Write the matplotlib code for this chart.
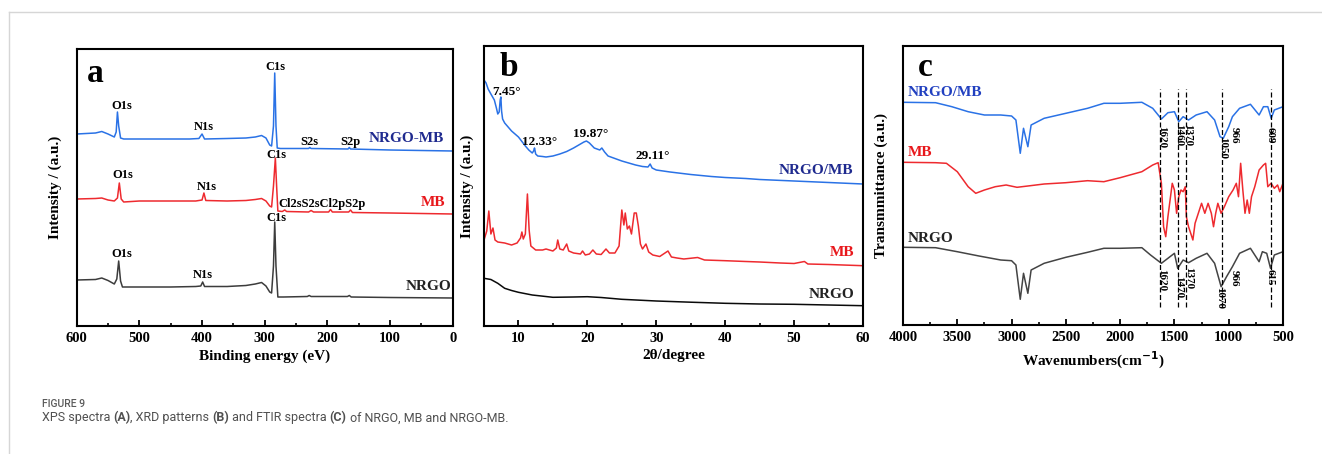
import numpy as np
import matplotlib
matplotlib.use("Agg")
import matplotlib.pyplot as plt
from matplotlib.lines import Line2D
from matplotlib.ticker import MultipleLocator

# ---- panel a: XPS survey (binding energy, relative intensity) ----
xps_mbc_be = [600, 570, 560, 550, 540, 537, 535, 533, 530, 525, 500, 460, 420, 405, 400, 396,
              360, 330, 315, 305, 298, 292, 289, 286, 284, 282, 280, 275, 230, 228, 226,
              167, 165, 163, 100, 50, 0]
xps_mbc_i = [192, 193, 194.5, 192, 189, 194, 214, 200, 188, 187, 187, 187, 187, 187.5, 192, 187,
             187.5, 188, 189, 190.5, 188, 181, 180, 200, 253, 200, 178, 177.5, 177.5, 178.5, 177.5,
             177, 178.5, 177, 176, 175.5, 175]

xps_mb_be = [600, 570, 560, 550, 540, 535, 532, 529, 525, 500, 450, 410, 400, 397, 394, 360,
             330, 315, 305, 298, 292, 289, 286, 283, 281, 279, 272, 268, 265, 230, 226, 222,
             198, 195, 192, 166, 163, 160, 100, 50, 0]
xps_mb_i = [127, 127.5, 128, 126, 125, 128, 143, 127, 124, 125, 125, 125, 126, 133, 125.5, 125,
            125.5, 126.5, 127.5, 125, 120, 119, 140, 168, 140, 115, 114.5, 116, 114.5, 114, 115.5, 114,
            114, 116.5, 114, 114, 116, 113.5, 113, 112.5, 112]

xps_ng_be = [600, 570, 560, 550, 540, 536, 533, 530, 527, 500, 450, 410, 402, 399, 396, 360,
             330, 315, 305, 298, 292, 289, 286, 284, 282, 279, 270, 232, 229, 226, 168, 165,
             162, 100, 0]
xps_ng_i = [46, 46.5, 48, 45.5, 42, 47, 65, 45, 39, 39, 39, 39.5, 40, 44, 39.5, 39.5,
            40.5, 42, 43.5, 40, 34, 33, 60, 104, 60, 29, 29, 29.5, 30.5, 29.5, 29.5, 30.5,
            29, 28.5, 28]

# ---- panel b: XRD ----
xrd_mbc_2t = [5.0, 5.3, 5.6, 6.0, 6.5, 6.8, 7.0, 7.2, 7.35, 7.45, 7.55, 7.7, 8.0, 8.5, 9, 10, 11,
              11.5, 12, 12.2, 12.33, 12.5, 12.8, 13.5, 14, 15, 16, 17, 18, 19, 19.5, 19.87, 20.3,
              21, 21.8, 22.1, 22.5, 23, 24, 25, 26, 27, 28, 28.8, 29.11, 29.4, 30, 32, 35, 38,
              40, 43, 45, 50, 55, 60]
xrd_mbc_i = [246, 243, 237, 232, 226, 218, 212, 214, 226, 229, 215, 207, 203, 199, 195, 189, 180,
             176, 173, 175, 178, 172, 170, 169.5, 169, 170, 172, 174.5, 178, 182, 184, 185, 183,
             178, 176, 178, 174, 170, 167.5, 165, 163, 161, 159.5, 159, 162, 158, 156, 154, 151.5, 149.5,
             148.5, 147.5, 146.5, 145, 143.5, 142]

xrd_mb_2t = [5.0, 5.4, 5.7, 6.0, 6.3, 6.6, 7, 8, 9, 9.8, 10.3, 10.5, 10.7, 11.0, 11.3, 11.55, 11.8,
             12.5, 13.5, 14, 15, 15.5, 15.7, 16.0, 16.5, 17.0, 17.3, 18, 19, 19.3, 19.7, 20.3,
             20.8, 21.3, 22, 22.7, 23.2, 24, 24.6, 25.0, 25.3, 25.5, 25.8, 26.1, 26.4, 26.8, 27.1,
             27.4, 27.7, 28.0, 28.5, 28.9, 29.5, 30.5, 31.7, 32.2, 33, 34, 36, 37, 40, 43, 45, 48,
             50, 51.5, 52, 55, 60]
xrd_mb_i = [86, 95, 115, 92, 98, 86, 84, 83, 81, 83, 88, 94, 87, 92, 132, 96, 80,
            76, 76, 77, 75, 78, 86, 77, 76, 82, 75, 73, 72, 75, 71, 72,
            76, 72, 71.5, 77, 73, 73, 80, 116, 101, 113, 97, 100, 92, 113, 113,
            100, 82, 77, 82, 74, 71, 69.5, 75, 69, 68, 67, 68.5, 66, 65.3, 64.5, 64, 63,
            62.5, 64.5, 62, 61.5, 60.3]

xrd_ng_2t = [5, 6, 7, 8, 9, 10, 12, 15, 18, 20, 22, 25, 30, 35, 40, 45, 50, 55, 60]
xrd_ng_i = [47.7, 46.5, 42.7, 37.7, 35.5, 33.7, 31, 28.7, 29, 29.3, 28.5, 26.7, 25, 23.8, 22.7,
            22, 21.7, 21, 20.3]

# ---- panel c: FTIR ----
ir_mbc_wn = [4000, 3700, 3550, 3400, 3250, 3100, 3000, 2960, 2920, 2890, 2850, 2820, 2700, 2500,
             2300, 2150, 2000, 1800, 1700, 1620, 1560, 1500, 1460, 1420, 1370, 1300, 1200, 1130,
             1080, 1050, 1000, 966, 900, 800, 720, 680, 640, 609, 580, 500]
ir_mbc_t = [222.7, 222.3, 218.3, 213.3, 210, 210, 209, 205, 171.7, 196.7, 178.3, 200, 206.7, 211.7,
            216.7, 221.7, 221.7, 222.7, 216.7, 206, 212.3, 213.3, 203.3, 208.3, 205, 210, 213.3, 205,
            188.3, 186.7, 198.3, 208.3, 216.7, 220.7, 210, 218.3, 218.3, 206.7, 215, 218.3]

ir_mb_wn = [4000, 3700, 3600, 3500, 3400, 3330, 3250, 3150, 3050, 2950, 2850, 2700, 2500, 2300,
            2150, 2000, 1800, 1700, 1650, 1620, 1600, 1580, 1560, 1540, 1520, 1500, 1480, 1460,
            1440, 1420, 1400, 1390, 1370, 1350, 1330, 1310, 1280, 1250, 1220, 1190, 1160, 1140,
            1120, 1100, 1070, 1040, 1000, 960, 930, 910, 890, 870, 850, 830, 810, 790, 760, 720,
            680, 660, 640, 610, 580, 550, 530, 500]
ir_mb_t = [162.7, 162.3, 161.7, 153.3, 138.3, 131.7, 135, 138.3, 140, 137.7, 139, 141, 142.3, 144.3,
           143.3, 147.3, 153.3, 160, 162.3, 141.7, 98.3, 88.3, 108.3, 125, 141.7, 135, 111.7, 128.3,
           135, 133.3, 138.3, 108.3, 98.3, 91.7, 85, 101.7, 111.7, 121.7, 111.7, 121.7, 111.7, 98.3,
           111.7, 121.7, 111.7, 118.3, 128.3, 135, 141.7, 128.3, 161.7, 135, 111.7, 125, 111.7, 128.3, 138.3, 155,
           160, 161.7, 138.3, 141.7, 136.7, 140, 133.3, 141.7]

ir_ng_wn = [4000, 3700, 3500, 3300, 3100, 3000, 2960, 2920, 2890, 2850, 2820, 2700, 2500, 2300,
            2150, 2000, 1800, 1720, 1620, 1560, 1500, 1470, 1420, 1370, 1300, 1200, 1130, 1070,
            1020, 966, 900, 800, 720, 690, 650, 615, 580, 500]
ir_ng_t = [77.7, 77.3, 73.3, 69, 65, 64.3, 60, 25.7, 51.7, 31.7, 55, 61.7, 67.7, 72.7,
           76.7, 76.7, 77.3, 70, 61.7, 66.7, 71.7, 56.7, 65, 62.3, 66.7, 71.7, 61.7, 38.3,
           48.3, 58.3, 71.7, 76.7, 63.3, 73.3, 71.7, 56.7, 70, 73.3]

ir_guides = [1632, 1465, 1390, 1060, 612]
ir_mbc_marks = [("1620", 1620, 188), ("1460", 1465, 190), ("1370", 1375, 190),
                ("1050", 1058, 177), ("966", 945, 190), ("609", 623, 190)]
ir_ng_marks = [("1620", 1620, 45), ("1470", 1458, 38), ("1370", 1368, 47),
               ("1070", 1080, 27), ("966", 945, 47), ("615", 623, 48)]

BLUE = "#2a72e6"
RED = "#ee2a2f"
NAVY = "#1f2a8f"
serif = "Liberation Serif"

plt.rcParams["font.family"] = serif
plt.rcParams["font.weight"] = "bold"

fig = plt.figure(figsize=(13.22, 4.54), dpi=100)

# light frame of the figure card
fig.add_artist(Line2D([9 / 1322, 1], [1 - 11.5 / 454] * 2, color="#d6d6d6", lw=1.0))
fig.add_artist(Line2D([9 / 1322] * 2, [0, 1 - 11.5 / 454], color="#d6d6d6", lw=1.0))


def style(ax, major, minor):
    for s in ax.spines.values():
        s.set_linewidth(1.5)
    ax.set_yticks([])
    ax.xaxis.set_major_locator(MultipleLocator(major))
    ax.xaxis.set_minor_locator(MultipleLocator(minor))
    ax.tick_params(axis="x", which="major", direction="in", length=4, width=1.3, pad=4,
                   labelsize=10.5)
    ax.tick_params(axis="x", which="minor", direction="in", length=2.5, width=1.2)
    for lab in ax.get_xticklabels():
        lab.set_fontweight("bold")


def lbl(ax, x, y, s, size=9, color="black", **kw):
    ax.text(x, y, s, fontsize=size, color=color, fontweight="bold", ha="center", va="center",
            family=serif, **kw)


# ---------------- a ----------------
axa = fig.add_axes([76.7 / 1322, 1 - 326 / 454, 376 / 1322, 277 / 454])
axa.plot(xps_mbc_be, xps_mbc_i, color=BLUE, lw=1.1)
axa.plot(xps_mb_be, xps_mb_i, color=RED, lw=1.1)
axa.plot(xps_ng_be, xps_ng_i, color="#3c3c3c", lw=1.1)
axa.set_xlim(600, 0)
axa.set_ylim(0, 277)
style(axa, 100, 50)
lbl(axa, 571, 253, "a", size=24)
for x, y, s in [(528, 220, "O1s"), (397, 199, "N1s"), (283, 259, "C1s"), (229, 184, "S2s"),
                (164, 184, "S2p"), (526, 151, "O1s"), (393, 139, "N1s"), (281, 171, "C1s"),
                (208, 122, "Cl2sS2sCl2pS2p"), (528, 72, "O1s"), (398, 51, "N1s"), (281, 108, "C1s")]:
    lbl(axa, x, y, s)
lbl(axa, 74, 187, "NRGO-MB", size=11, color=NAVY)
lbl(axa, 32, 124, "MB", size=11, color="#e8181c")
lbl(axa, 39, 39, "NRGO", size=11, color="#222222")
axa.text(-0.058, 0.5, "Intensity / (a.u.)", transform=axa.transAxes, rotation=90,
         ha="center", va="center", fontsize=11, fontweight="bold")
axa.text(0.5, -0.111, "Binding energy (eV)", transform=axa.transAxes,
         ha="center", va="center", fontsize=11, fontweight="bold")

# ---------------- b ----------------
axb = fig.add_axes([484 / 1322, 1 - 326 / 454, 379 / 1322, 280 / 454])
axb.plot(xrd_mbc_2t, xrd_mbc_i, color=BLUE, lw=1.1)
axb.plot(xrd_mb_2t, xrd_mb_i, color=RED, lw=1.1)
axb.plot(xrd_ng_2t, xrd_ng_i, color="#0a0a0a", lw=1.1)
axb.set_xlim(5, 60)
axb.set_ylim(0, 280)
style(axb, 10, 5)
lbl(axb, 8.55, 258, "b", size=24)
for x, y, s in [(8.3, 234, "7.45°"), (13.1, 184, "12.33°"), (20.5, 192, "19.87°"),
                (29.5, 170, "29.11°")]:
    lbl(axb, x, y, s, size=9.5)
lbl(axb, 53.1, 156, "NRGO/MB", size=11, color=NAVY)
lbl(axb, 56.9, 74, "MB", size=11, color="#e8181c")
lbl(axb, 55.5, 31, "NRGO", size=11, color="#222222")
axb.text(-0.044, 0.5, "Intensity / (a.u.)", transform=axb.transAxes, rotation=90,
         ha="center", va="center", fontsize=11, fontweight="bold")
axb.text(0.5, -0.104, "2θ/degree", transform=axb.transAxes,
         ha="center", va="center", fontsize=11, fontweight="bold")

# ---------------- c ----------------
axc = fig.add_axes([903 / 1322, 1 - 325 / 454, 380 / 1322, 279 / 454])
axc.plot(ir_mbc_wn, ir_mbc_t, color=BLUE, lw=1.1)
axc.plot(ir_mb_wn, ir_mb_t, color=RED, lw=1.1)
axc.plot(ir_ng_wn, ir_ng_t, color="#444444", lw=1.1)
for w in ir_guides:
    axc.plot([w, w], [18, 236], color="black", lw=0.9, ls=(0, (4, 2)))
for s, x, y in ir_mbc_marks + ir_ng_marks:
    lbl(axc, x, y, s, size=8, rotation=-90)
axc.set_xlim(4000, 500)
axc.set_ylim(0, 279)
style(axc, 500, 250)
lbl(axc, 3797, 258, "c", size=24)
axc.text(3960, 232, "NRGO/MB", fontsize=11, color="#2140c0", fontweight="bold", ha="left", va="center")
axc.text(3960, 173, "MB", fontsize=11, color="#e8181c", fontweight="bold", ha="left", va="center")
axc.text(3960, 87, "NRGO", fontsize=11, color="#222222", fontweight="bold", ha="left", va="center")
axc.text(-0.056, 0.5, "Transmmittance (a.u.)", transform=axc.transAxes, rotation=90,
         ha="center", va="center", fontsize=11, fontweight="bold")
axc.text(0.5, -0.128, "Wavenumbers(cm$^{\\mathbf{-1}}$)", transform=axc.transAxes,
         ha="center", va="center", fontsize=11, fontweight="bold")

# ---------------- caption ----------------
capfont = ["Roboto", "DejaVu Sans"]
fig.text(41.5 / 1322, 1 - 404 / 454, "FIGURE 9", family=capfont, fontsize=7.5,
         fontweight="medium", color="#5a5a5a", ha="left", va="center")
cap = [("XPS spectra ", "normal"), ("(A)", "bold"), (", XRD patterns ", "normal"), ("(B)", "bold"),
       (" and FTIR spectra ", "normal"), ("(C)", "bold"), (" of NRGO, MB and NRGO-MB.", "normal")]
x0 = 41.5
renderer = fig.canvas.get_renderer()
for s, w in cap:
    t = fig.text(x0 / 1322, 1 - 418 / 454, s, family=capfont, fontsize=9, fontweight=w,
                 color="#505050", ha="left", va="center")
    x0 += t.get_window_extent(renderer).width

fig.savefig("out.png", dpi=100)
